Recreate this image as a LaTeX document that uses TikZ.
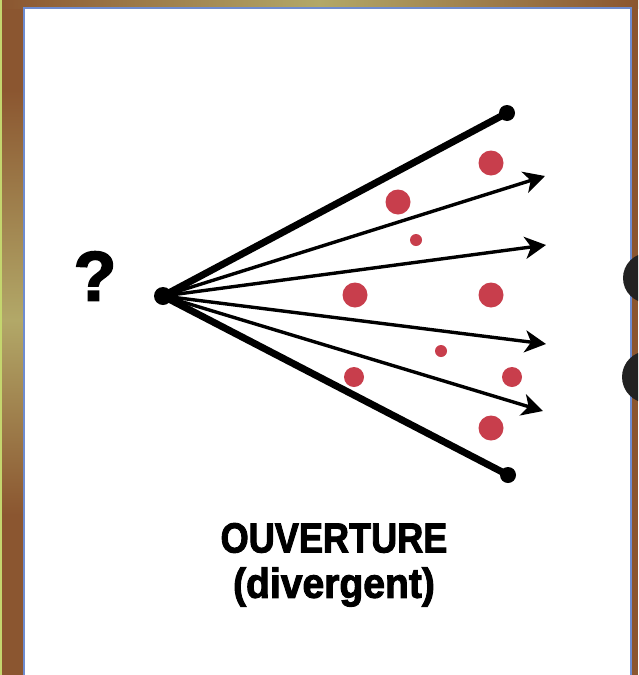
\documentclass[tikz,border=0pt]{standalone}
\usepackage{fontspec}
\setmainfont{Liberation Sans}
\newfontfamily\heavyfont{Liberation Sans Bold}[FakeBold=2.5]
\usetikzlibrary{arrows.meta,positioning}
\definecolor{framebrown}{RGB}{139,86,48}
\definecolor{frameolive}{RGB}{178,168,104}
\definecolor{framelime}{RGB}{196,214,110}
\definecolor{panelblue}{RGB}{110,140,208}
\definecolor{ideared}{RGB}{200,62,76}
\definecolor{knobgray}{RGB}{34,34,34}

\begin{document}
\begin{tikzpicture}[x=1pt,y=-1pt,
    edge/.style={line width=7pt, line cap=round},
    path arrow/.style={line width=3.4pt, -{Stealth[length=21pt,width=22pt,inset=6pt]}},
    idea/.style={circle, fill=ideared, inner sep=0pt, minimum size=#1},
    title/.style={font=\heavyfont\fontsize{42}{42}\selectfont, inner sep=0pt}]
    \useasboundingbox (0,0) rectangle (638,675);
    \clip (0,0) rectangle (638,675);

    % Frame
    \fill[framebrown] (0,0) rectangle (638,675);
    \shade[left color=framebrown, right color=framebrown, middle color=frameolive] (0,0) rectangle (638,8);
    \shade[top color=framebrown, bottom color=frameolive] (0,90) rectangle (24,320);
    \shade[top color=frameolive, bottom color=framebrown] (0,320) rectangle (24,515);
    \fill[framelime] (0,0) rectangle (2,675);

    % Panel
    \draw[panelblue, line width=2.2pt, fill=white] (24,8) rectangle (631,690);

    % Side knobs
    \fill[knobgray] (648,278) circle (25pt);
    \fill[knobgray] (648,377) circle (26pt);

    % Source and ends
    \coordinate (src) at (163,296);
    \coordinate (top end) at (507,113);
    \coordinate (bottom end) at (508,475);
    \coordinate (path1) at (545,176);
    \coordinate (path2) at (546,245);
    \coordinate (path3) at (546,344);
    \coordinate (path4) at (543,411);

    % Outer edges
    \draw[edge] (src) -- (top end);
    \draw[edge] (src) -- (bottom end);
    \fill (top end) circle (8pt);
    \fill (bottom end) circle (8pt);
    \fill (src) circle (9pt);

    % Arrows
    \foreach \i in {1,...,4}
        \draw[path arrow] (src) -- (path\i);

    % Ideas
    \node[idea=25pt] (idea1) at (491,163) {};
    \node[idea=25pt] (idea2) at (398,202) {};
    \node[idea=12pt] (idea3) at (416,240) {};
    \node[idea=25pt] (idea4) at (355,295) {};
    \node[idea=25pt] (idea5) at (491,295) {};
    \node[idea=12pt] (idea6) at (441,351) {};
    \node[idea=20pt] (idea7) at (354,377) {};
    \node[idea=20pt] (idea8) at (512,377) {};
    \node[idea=25pt] (idea9) at (491,428) {};

    % Labels
    \node[font=\heavyfont\fontsize{70}{70}\selectfont, inner sep=0pt] (ask) at (95,276) {?};
    \node[title, xscale=0.86] (name) at (334,538) {OUVERTURE};
    \node[title, xscale=0.93] (kind) at (334,587) {(divergent)};
\end{tikzpicture}
\end{document}
